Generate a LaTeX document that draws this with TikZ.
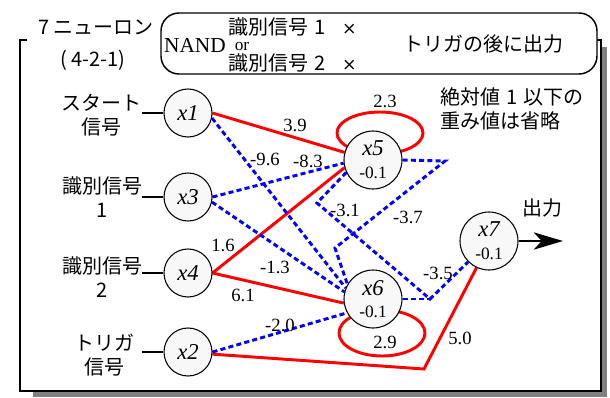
\documentclass[tikz,border=0pt]{standalone}
\usepackage{fontspec}
\setmainfont{Liberation Serif}
\newfontfamily\jp{Noto Sans CJK JP}
\newfontfamily\dv{DejaVu Sans}
\usetikzlibrary{arrows.meta,backgrounds}
\definecolor{shadowgray}{RGB}{128,128,128}
\definecolor{nfill}{RGB}{248,248,248}
\newcommand{\crossmark}{{\dv\fontsize{13}{15}\selectfont ×}}
\begin{document}
\begin{tikzpicture}[x=0.75pt,y=-0.75pt,
  neuron/.style={circle,draw,line width=0.8pt,fill=nfill,minimum size=43.5pt,inner sep=0pt,align=center,font=\fontsize{13}{17}\selectfont},
  small/.style={minimum size=36pt},
  redw/.style={draw=red,line width=2.2pt},
  bluew/.style={draw=blue,line width=2.2pt,dash pattern=on 3.8pt off 2.4pt},
  wt/.style={font=\fontsize{14}{15}\selectfont,inner sep=0pt},
  jlab/.style={font=\jp\fontsize{15}{18}\selectfont,align=center,inner sep=0pt},
  thin/.style={line width=0.8pt},
]
\useasboundingbox (0,0) rectangle (610,397);

% frame with shadow
\begin{scope}[on background layer]
  \fill[shadowgray] (33,47) rectangle (607,397);
  \fill[white] (20,40) rectangle (601,391);
  \draw[line width=1.1pt] (27,40) -| (20,391) -| (601,40) -- (590,40);
\end{scope}

% header box
\draw[fill=white,line width=1.1pt,rounded corners=13.5pt] (161,13) rectangle (597,74);
\node[font=\fontsize{16}{18}\selectfont,inner sep=0pt] (nand) at (195,45) {NAND};
\node[jlab,anchor=west] (s1) at (228,27) {識別信号\hspace{5pt}1\hspace{12pt}\crossmark};
\node[font=\fontsize{13}{13}\selectfont,inner sep=0pt,anchor=base] (or) at (242,50) {or};
\node[jlab,anchor=west] (s2) at (228,63) {識別信号\hspace{5pt}2\hspace{12pt}\crossmark};
\node[jlab] (trig) at (483,44) {トリガの後に出力};

% title
\node[jlab] (title) at (96,27) {7\hspace{3pt}ニューロン};
\node[jlab] (title2) at (93,60) {(\hspace{3pt}4-2-1)};

% neurons
\node[neuron,small] (x1) at (188,113) {{\fontsize{17}{17}\selectfont\itshape x1}};
\node[neuron,small] (x3) at (188,197) {{\fontsize{17}{17}\selectfont\itshape x3}};
\node[neuron,small] (x4) at (188,273) {{\fontsize{17}{17}\selectfont\itshape x4}};
\node[neuron,small] (x2) at (188,352) {{\fontsize{17}{17}\selectfont\itshape x2}};
\node[neuron] (x5) at (373,160) {{\fontsize{17}{17}\selectfont\itshape x5}\\-0.1};
\node[neuron] (x6) at (373,299) {{\fontsize{17}{17}\selectfont\itshape x6}\\-0.1};
\node[neuron] (x7) at (489,241) {{\fontsize{17}{17}\selectfont\itshape x7}\\-0.1};

% input labels
\node[jlab] (L1) at (101,115) {スタート\\信号};
\node[jlab] (L3) at (102,197) {識別信号\\1};
\node[jlab] (L4) at (102,277) {識別信号\\2};
\node[jlab] (L2) at (104,355) {トリガ\\信号};
\coordinate (t1) at (142,113);
\coordinate (t3) at (142,197);
\coordinate (t4) at (142,273);
\coordinate (t2) at (142,352);
\draw[thin] (t1) -- (x1);
\draw[thin] (t3) -- (x3);
\draw[thin] (t4) -- (x4);
\draw[thin] (t2) -- (x2);

% notes
\node[jlab,align=left,anchor=west] (note) at (440,109) {絶対値\hspace{5pt}1\hspace{4pt}以下の\\重み値は省略};
\node[jlab] (out) at (542,208) {出力};
\coordinate (o) at (563,241);
\draw[line width=1pt,-{Stealth[length=22pt,width=13pt,inset=6pt]}] (x7) -- (o);

% bend points
\coordinate (c1) at (445,161);
\coordinate (c2) at (335,248);
\coordinate (c3) at (317,203);
\coordinate (c4) at (430,299);
\coordinate (c5) at (424,369);

% connectors
\begin{scope}[on background layer]
  \draw[redw] (x1.east) -- (x5.165);
  \draw[redw] (x4.east) -- (x5.195);
  \draw[redw] (x4.east) -- (x6.188);
  \draw[redw] (x2.-5) -- (c5) -- (x7.245);
  \draw[redw] (x5.center) ++(7,-27) ellipse [x radius=43, y radius=21];
  \draw[redw] (x6.center) ++(9,34) ellipse [x radius=43, y radius=23];
  \draw[bluew] (x1.-12) -- (x6.158);
  \draw[bluew] (x3.east) -- (x5.186);
  \draw[bluew] (x3.-12) -- (x6.166);
  \draw[bluew] (x2.east) -- (x6.208);
  \draw[bluew] (x5.east) -- (c1) -- (c2) -- (x6.150);
  \draw[bluew] (x5.205) -- (c3) -- (c4) -- (x7.225);
  \draw[bluew] (x6.east) -- (c4);
\end{scope}

% weights
\node[wt] (w1) at (295,125) {3.9};
\node[wt] (w2) at (265,159) {-9.6};
\node[wt] (w3) at (308,161) {-8.3};
\node[wt] (w4) at (223,245) {1.6};
\node[wt] (w5) at (275,267) {-1.3};
\node[wt] (w6) at (243,295) {6.1};
\node[wt] (w7) at (280,325) {-2.0};
\node[wt] (w8) at (385,101) {2.3};
\node[wt] (w9) at (385,342) {2.9};
\node[wt] (w10) at (345,210) {-3.1};
\node[wt] (w11) at (408,217) {-3.7};
\node[wt] (w12) at (438,273) {-3.5};
\node[wt] (w13) at (460,338) {5.0};
\end{tikzpicture}
\end{document}
